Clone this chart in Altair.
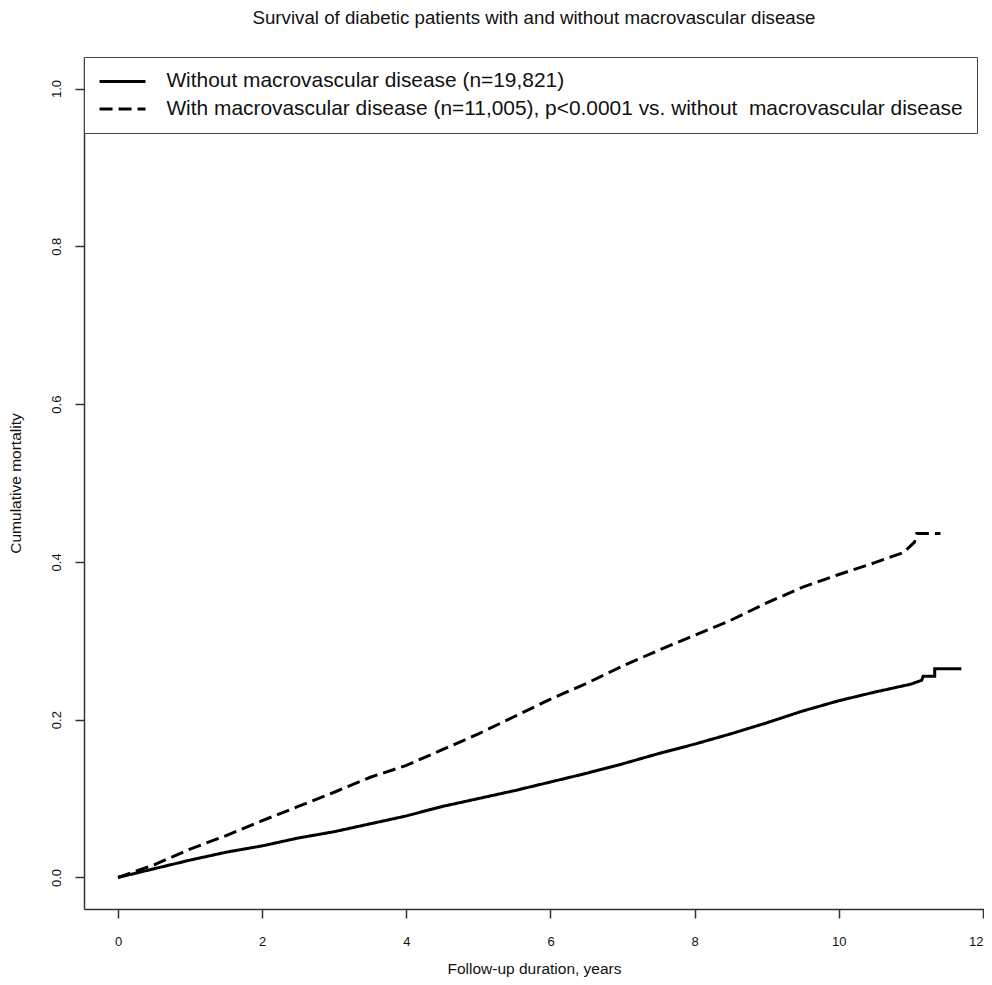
import altair as alt
import pandas as pd

# Series labels (the reference has a double space before the second "macrovascular")
lab_without = "Without macrovascular disease (n=19,821)"
lab_with = "With macrovascular disease (n=11,005), p<0.0001 vs. without\u00a0 macrovascular disease"

# Cumulative mortality, without macrovascular disease
t_without = [0, 0.5, 1.0, 1.5, 2.0, 2.5, 3.0, 3.5, 4.0, 4.5, 5.0, 5.5, 6.0, 6.5,
             7.0, 7.5, 8.0, 8.5, 9.0, 9.5, 10.0, 10.5, 11.0, 11.15, 11.17, 11.33, 11.33, 11.70]
m_without = [0, 0.011, 0.022, 0.032, 0.040, 0.050, 0.058, 0.068, 0.078, 0.090, 0.100, 0.110,
             0.121, 0.132, 0.144, 0.157, 0.169, 0.182, 0.196, 0.211, 0.224, 0.235, 0.245,
             0.250, 0.255, 0.255, 0.2645, 0.2645]

# Cumulative mortality, with macrovascular disease
t_with = [0, 0.5, 1.0, 1.5, 2.0, 2.5, 3.0, 3.5, 4.0, 4.5, 5.0, 5.5, 6.0, 6.5, 7.0,
          7.5, 8.0, 8.5, 9.0, 9.5, 10.0, 10.5, 10.9, 11.05, 11.08, 11.41]
m_with = [0, 0.016, 0.036, 0.053, 0.072, 0.090, 0.108, 0.127, 0.142, 0.162, 0.182, 0.204,
          0.226, 0.246, 0.268, 0.288, 0.307, 0.326, 0.348, 0.368, 0.384, 0.399, 0.412,
          0.425, 0.436, 0.436]

x_ticks = [0, 2, 4, 6, 8, 10, 12]
y_ticks = [0.0, 0.2, 0.4, 0.6, 0.8, 1.0]

rows = []
for i, (t, m) in enumerate(zip(t_without, m_without)):
    rows.append({"t": t, "m": m, "group": lab_without, "o": i})
for i, (t, m) in enumerate(zip(t_with, m_with)):
    rows.append({"t": t, "m": m, "group": lab_with, "o": i})
df = pd.DataFrame(rows)

FONT = "Liberation Sans"

chart = alt.Chart(df).mark_line(color="black", strokeWidth=3, strokeCap="butt").encode(
    x=alt.X("t:Q",
            scale=alt.Scale(domain=[-0.4717, 12.014], nice=False, zero=False),
            axis=alt.Axis(values=x_ticks, format="d", title="Follow-up duration, years",
                          titlePadding=13, labelPadding=17,
                          labelAlign={"condition": {"test": "datum.value == 12", "value": "right"},
                                      "value": "center"})),
    y=alt.Y("m:Q",
            scale=alt.Scale(domain=[-0.04, 1.04], nice=False, zero=False),
            axis=alt.Axis(values=y_ticks, format=".1f", title="Cumulative mortality",
                          labelAngle=270, labelAlign="center", labelBaseline="bottom",
                          labelPadding=12, titlePadding=27)),
    strokeDash=alt.StrokeDash("group:N",
                              scale=alt.Scale(domain=[lab_without, lab_with],
                                              range=[[1, 0], [13, 6]]),
                              legend=alt.Legend(title=None, orient="none",
                                                legendX=0, legendY=0)),
    order="o:Q",
).properties(
    width=900,
    height=852,
    title=alt.Title("Survival of diabetic patients with and without macrovascular disease",
                    fontSize=18.7, font=FONT, fontWeight="normal", color="#111", offset=29),
    autosize=alt.AutoSizeParams(type="none"),
    padding={"left": 76, "top": 49, "right": 0, "bottom": 68},
).configure_view(
    stroke=None
).configure_axis(
    grid=False,
    domainColor="#333",
    domainWidth=1.5,
    tickColor="#333",
    tickWidth=1.5,
    tickSize=9,
    labelFont=FONT,
    labelFontSize=13,
    labelColor="#111",
    titleFont=FONT,
    titleFontSize=15.5,
    titleFontWeight="normal",
    titleColor="#111",
).configure_legend(
    fillColor="white",
    strokeColor="#444",
    padding=14,
    rowPadding=5.5,
    labelOffset=47.5,
    labelFont=FONT,
    labelFontSize=20.9,
    labelColor="#111",
    labelLimit=0,
    symbolType="M-1.55,0H6.45",
    symbolSize=132,
    symbolStrokeWidth=3,
    symbolStrokeColor="black",
)

chart.save("out.html", embed_options={"renderer": "svg", "actions": False})
